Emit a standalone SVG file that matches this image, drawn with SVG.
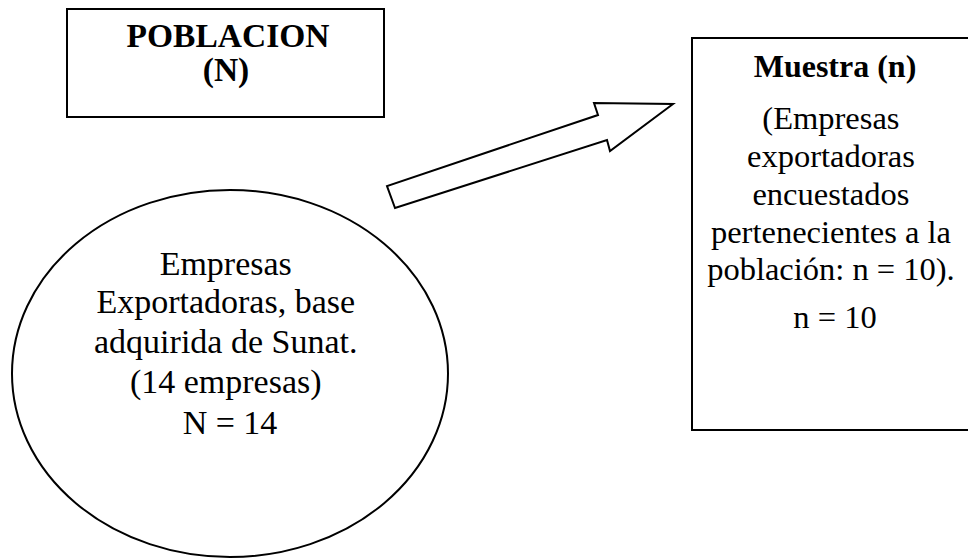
<svg xmlns="http://www.w3.org/2000/svg" width="968" height="558" viewBox="0 0 968 558">
<style>
.shape{fill:#fff;stroke:#000;stroke-width:2}
.t{font-family:"Liberation Serif","Times New Roman",serif;fill:#000;text-anchor:middle}
.b{font-weight:bold}
</style>
<rect width="968" height="558" fill="#fff"/>
<g id="poblacion">
<rect class="shape" x="67" y="9" width="317" height="108"/>
<text class="t b" x="228" y="47" font-size="33.5">POBLACION</text>
<text class="t b" x="226" y="81" font-size="33.5">(N)</text>
</g>
<g id="empresas">
<ellipse class="shape" cx="230" cy="373.5" rx="218" ry="183.5"/>
<text class="t" font-size="34" x="230">
<tspan x="230" y="275">Empresas</tspan>
<tspan x="230" y="313">Exportadoras, base</tspan>
<tspan x="230" y="353">adquirida de Sunat.</tspan>
<tspan x="230" y="393">(14 empresas)</tspan>
<tspan x="230" y="434">N = 14</tspan>
</text>
</g>
<g id="muestra">
<rect class="shape" x="692" y="38" width="290" height="392"/>
<text class="t b" x="835" y="77" font-size="32">Muestra (n)</text>
<text class="t" font-size="32.5">
<tspan x="835" y="129">(Empresas</tspan>
<tspan x="835" y="167">exportadoras</tspan>
<tspan x="835" y="205">encuestados</tspan>
<tspan x="835" y="243">pertenecientes a la</tspan>
<tspan x="835" y="280">población: n = 10).</tspan>
<tspan x="835" y="328">n = 10</tspan>
</text>
</g>
<g id="connectors">
<polygon class="shape" points="395,208 387,186 598,115 594,103 673,104 610,151 607,140"/>
</g>
</svg>
